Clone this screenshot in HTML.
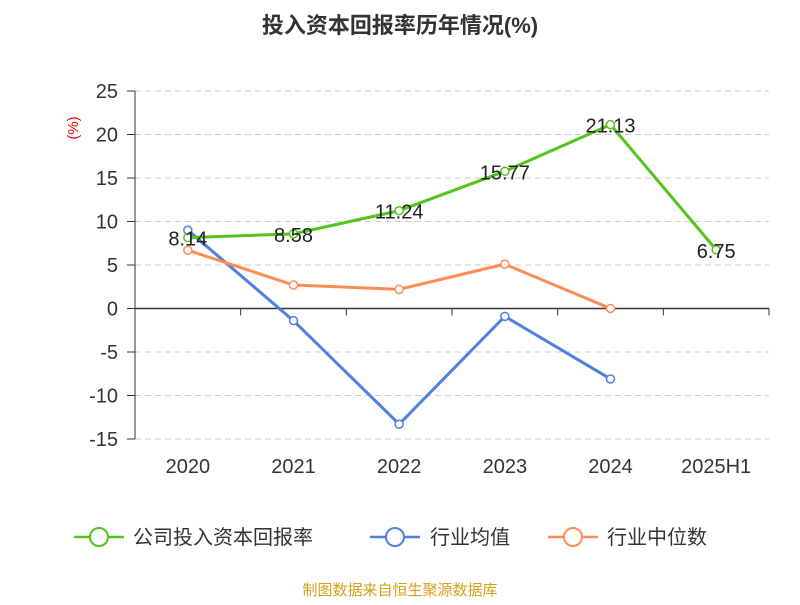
<!DOCTYPE html>
<html><head><meta charset="utf-8"><style>
body{margin:0;background:#fff;font-family:"Liberation Sans","Noto Sans CJK SC",sans-serif}
svg text{font-family:"Liberation Sans","Noto Sans CJK SC",sans-serif}
</style></head><body>
<svg id="c" width="800" height="600">
<text x="400" y="33" text-anchor="middle" font-size="22" font-weight="bold" fill="#333">投入资本回报率历年情况(%)</text>
<text x="78" y="128" font-size="15" fill="#e00" transform="rotate(-90 78 128)" text-anchor="middle">(%)</text>
<g id="grid"></g><g id="axes"></g><g id="series"></g>
<g font-size="20" fill="#333">
<g><line x1="74" y1="537" x2="124" y2="537" stroke="#52c41a" stroke-width="2.5"/><circle cx="99" cy="537" r="9" fill="#fff" stroke="#52c41a" stroke-width="2"/><text x="133" y="544">公司投入资本回报率</text></g>
<g><line x1="370" y1="537" x2="420" y2="537" stroke="#4f7fe0" stroke-width="2.5"/><circle cx="395" cy="537" r="9" fill="#fff" stroke="#4f7fe0" stroke-width="2"/><text x="430" y="544">行业均值</text></g>
<g><line x1="548" y1="537" x2="598" y2="537" stroke="#ff8c55" stroke-width="2.5"/><circle cx="573" cy="537" r="9" fill="#fff" stroke="#ff8c55" stroke-width="2"/><text x="607" y="544">行业中位数</text></g>
</g>
<text x="400" y="595" text-anchor="middle" font-size="15" fill="#d4a017">制图数据来自恒生聚源数据库</text>
</svg>
<script>
const categories=["2020","2021","2022","2023","2024","2025H1"];
const companyValues=[8.14,8.58,11.24,15.77,21.13,6.75];
const avgValues=[9.0,-1.4,-13.3,-0.9,-8.1,null];
const medianValues=[6.7,2.7,2.2,5.1,0.0,null];
const yTicks=[25,20,15,10,5,0,-5,-10,-15];
const L=135,R=769,T=91,B=439,ymax=25,ymin=-15;
const y=v=>T+(ymax-v)/(ymax-ymin)*(B-T);
const bw=(R-L)/categories.length;
const x=i=>L+bw*(i+0.5);
const NS="http://www.w3.org/2000/svg";
function mk(p,t,a){const e=document.createElementNS(NS,t);for(const k in a)e.setAttribute(k,a[k]);p.appendChild(e);return e;}
const g=document.getElementById('grid'),ax=document.getElementById('axes'),s=document.getElementById('series');
yTicks.forEach(v=>{
 if(v!==0){const l=mk(g,'line',{x1:L,x2:R,y1:y(v),y2:y(v),stroke:'#ccc','stroke-dasharray':'6,4'});
 
 }
 const t=mk(ax,'text',{x:L-17,y:y(v)+7,'text-anchor':'end','font-size':20,fill:'#333'});t.textContent=v;
 
 
 mk(ax,'line',{x1:L-8,x2:L,y1:y(v),y2:y(v),stroke:'#333'});
});
const za=mk(ax,'line',{x1:L,x2:R,y1:y(0),y2:y(0),stroke:'#333','stroke-width':1.5});


const ya=mk(ax,'line',{x1:L,x2:L,y1:T,y2:B,stroke:'#333'});


categories.forEach((c,i)=>{
 mk(ax,'line',{x1:L+bw*i,x2:L+bw*i,y1:y(0),y2:y(0)+7,stroke:'#333'});
 const t=mk(ax,'text',{x:x(i),y:473,'text-anchor':'middle','font-size':20,fill:'#333'});t.textContent=c;
 
 
});
mk(ax,'line',{x1:R,x2:R,y1:y(0),y2:y(0)+7,stroke:'#333'});
function series(vals,color,name,labels){
 const pts=vals.map((v,i)=>v==null?null:[x(i),y(v)]).filter(p=>p);
 const pl=mk(s,'polyline',{points:pts.map(p=>p.join(',')).join(' '),fill:'none',stroke:color,'stroke-width':3});
 
 
 vals.forEach((v,i)=>{if(v==null)return;
  const c=mk(s,'circle',{cx:x(i),cy:y(v),r:4,fill:'#fff',stroke:color,'stroke-width':1.5});
  
  
  if(labels){const t=mk(s,'text',{x:x(i),y:y(v)+8,'text-anchor':'middle','font-size':20,fill:'#222'});t.textContent=v.toFixed(2);
  
  }
 });
}
series(avgValues,'#4f7fe0','industry-average',false);
series(medianValues,'#ff8c55','industry-median',false);
series(companyValues,'#52c41a','company-roic',true);
</script>
</body></html>
